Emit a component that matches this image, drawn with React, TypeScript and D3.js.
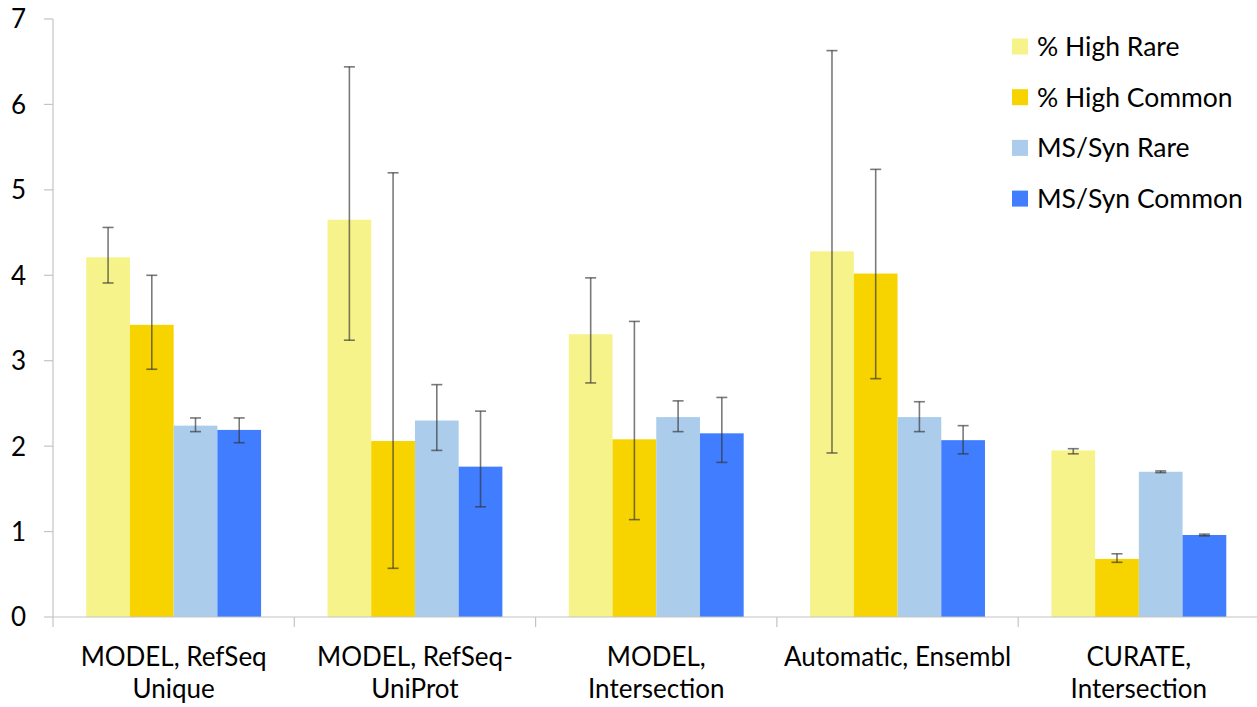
import * as d3 from 'd3'

const categories = [
  'MODEL, RefSeq\nUnique',
  'MODEL, RefSeq-\nUniProt',
  'MODEL,\nIntersection',
  'Automatic, Ensembl',
  'CURATE,\nIntersection',
]
const seriesNames = ['% High Rare', '% High Common', 'MS/Syn Rare', 'MS/Syn Common']
const seriesColors = ['#F6F38A', '#F7D400', '#ABCDEB', '#407EFF']

// values per series, one entry per category
const highRare = [4.21, 4.65, 3.31, 4.28, 1.95]
const highCommon = [3.42, 2.06, 2.08, 4.02, 0.68]
const msRare = [2.24, 2.30, 2.34, 2.34, 1.70]
const msCommon = [2.19, 1.76, 2.15, 2.07, 0.96]

// error bar low / high
const highRareLo = [3.91, 3.24, 2.74, 1.92, 1.91]
const highRareHi = [4.56, 6.44, 3.97, 6.63, 1.97]
const highCommonLo = [2.90, 0.57, 1.14, 2.79, 0.64]
const highCommonHi = [4.00, 5.20, 3.46, 5.24, 0.74]
const msRareLo = [2.17, 1.95, 2.17, 2.17, 1.69]
const msRareHi = [2.33, 2.72, 2.53, 2.52, 1.71]
const msCommonLo = [2.04, 1.29, 1.81, 1.91, 0.95]
const msCommonHi = [2.33, 2.41, 2.57, 2.24, 0.97]

const yTicks = [0, 1, 2, 3, 4, 5, 6, 7]

const values = [highRare, highCommon, msRare, msCommon]
const lows = [highRareLo, highCommonLo, msRareLo, msCommonLo]
const highs = [highRareHi, highCommonHi, msRareHi, msCommonHi]

const W = 1257
const H = 707
const FONT = 'Lato, "Open Sans", sans-serif'

export default function App() {
  const x0 = d3.scaleBand<string>().domain(categories).range([53, 1259.5]).padding(0)
  const x1 = d3.scaleBand<string>().domain(seriesNames).range([0, x0.bandwidth()]).paddingInner(0).paddingOuter(0.76)
  const y = d3.scaleLinear().domain([0, 7]).range([617, 19])
  const axisColor = '#C4C4C4'
  const capW = 11

  return (
    <svg width={W} height={H} style={{ position: 'absolute', left: 0, top: 0, background: '#fff' }} fontFamily={FONT}>
      {/* bars */}
      {categories.map((c, ci) => (
        <g key={c} transform={`translate(${x0(c)},0)`}>
          {seriesNames.map((s, si) => (
            <rect key={s} x={x1(s)} y={y(values[si][ci])} width={x1.bandwidth()} height={y(0) - y(values[si][ci])} fill={seriesColors[si]} />
          ))}
        </g>
      ))}

      {/* axes */}
      <line x1={53} x2={1257} y1={y(0)} y2={y(0)} stroke={axisColor} strokeWidth={1.2} />
      <line x1={53} x2={53} y1={y(7)} y2={627} stroke={axisColor} strokeWidth={1.2} />
      {yTicks.map(t => (
        <g key={t}>
          <line x1={44} x2={53} y1={y(t)} y2={y(t)} stroke={axisColor} strokeWidth={1.2} />
          <text x={26} y={y(t)} dy="0.36em" textAnchor="end" fontSize={26} fill="#000">{t}</text>
        </g>
      ))}
      {categories.slice(1).map(c => (
        <line key={c} x1={x0(c)!} x2={x0(c)!} y1={y(0)} y2={627} stroke={axisColor} strokeWidth={1.2} />
      ))}
      {categories.map(c => (
        <text key={c} x={x0(c)! + x0.bandwidth() / 2} y={666} textAnchor="middle" fontSize={26} fill="#000">
          {c.split('\n').map((line, li) => (
            <tspan key={li} x={x0(c)! + x0.bandwidth() / 2} dy={li === 0 ? 0 : 32}>{line}</tspan>
          ))}
        </text>
      ))}

      {/* error bars */}
      {categories.map((c, ci) => (
        <g key={c} transform={`translate(${x0(c)},0)`} stroke="#333" strokeOpacity={0.65} strokeWidth={1.6}>
          {seriesNames.map((s, si) => {
            const cx = x1(s)! + x1.bandwidth() / 2
            const lo = y(lows[si][ci])
            const hi = y(highs[si][ci])
            return (
              <g key={s}>
                <line x1={cx} x2={cx} y1={lo} y2={hi} />
                <line x1={cx - capW / 2} x2={cx + capW / 2} y1={lo} y2={lo} />
                <line x1={cx - capW / 2} x2={cx + capW / 2} y1={hi} y2={hi} />
              </g>
            )
          })}
        </g>
      ))}

      {/* legend */}
      {seriesNames.map((s, i) => (
        <g key={s} transform={`translate(1012,${46.5 + i * 50.7})`}>
          <rect x={0} y={-8} width={16} height={16} fill={seriesColors[i]} />
          <text x={25} y={0} dy="0.36em" fontSize={26.5} fill="#000">{s}</text>
        </g>
      ))}
    </svg>
  )
}
